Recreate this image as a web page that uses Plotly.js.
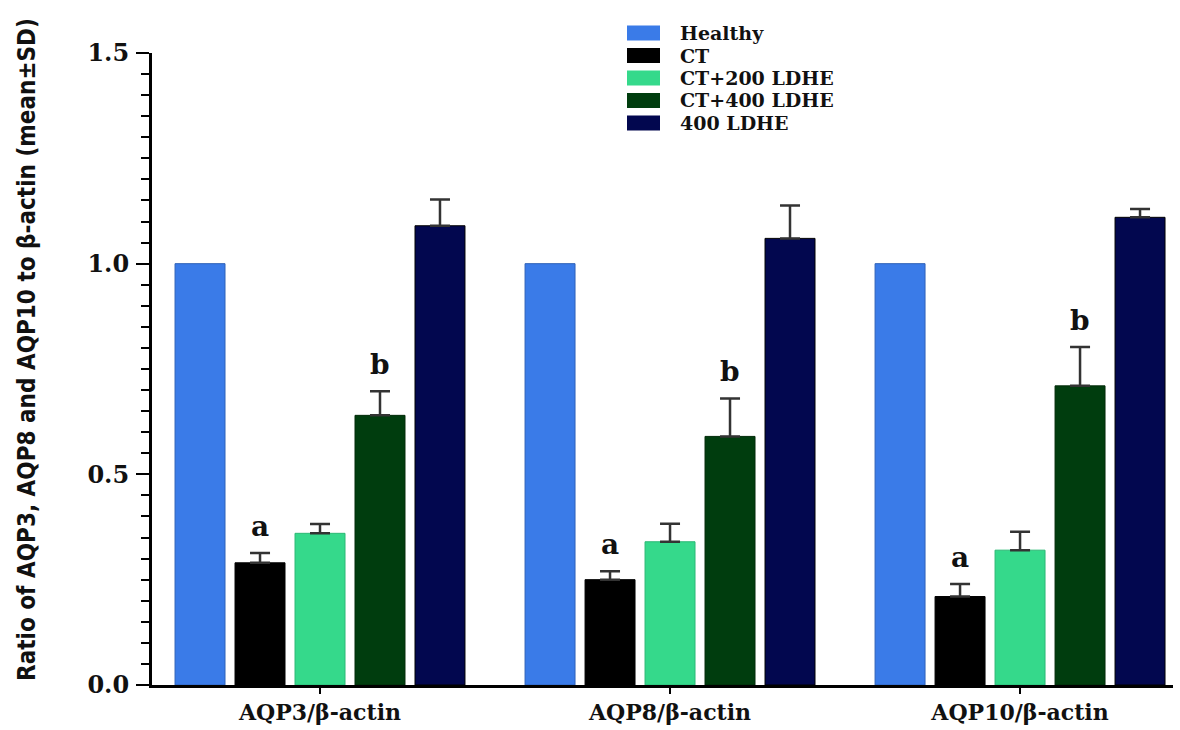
<!DOCTYPE html>
<html>
<head>
<meta charset="utf-8">
<script src="https://cdn.plot.ly/plotly-3.0.1.min.js"></script>
<style>html,body{margin:0;padding:0;background:#fff;}#chart{width:1180px;height:730px;}</style>
</head>
<body>
<div id="chart"></div>
<script>
// ---- data ----
const categories = ["AQP3/β-actin", "AQP8/β-actin", "AQP10/β-actin"];
const seriesNames = ["Healthy", "CT", "CT+200 LDHE", "CT+400 LDHE", "400 LDHE"];
const healthy     = [1.00, 1.00, 1.00];
const ct          = [0.29, 0.25, 0.21];
const ct200       = [0.36, 0.34, 0.32];
const ct400       = [0.64, 0.59, 0.71];
const ldhe400     = [1.09, 1.06, 1.11];
const healthySD   = [0, 0, 0];
const ctSD        = [0.023, 0.020, 0.030];
const ct200SD     = [0.022, 0.043, 0.044];
const ct400SD     = [0.057, 0.090, 0.092];
const ldhe400SD   = [0.062, 0.078, 0.020];
const sigLetters  = [{series: 1, letter: "a"}, {series: 3, letter: "b"}];
const yTitle = "Ratio of AQP3, AQP8 and AQP10 to β-actin (mean±SD)";

// ---- styling ----
const colors = ["#3a7be8", "#000000", "#35d98b", "#003d0e", "#02074f"];
const lineColors = ["#2f62b8", "#000000", "#2bb874", "#002a08", "#000000"];
const values = [healthy, ct, ct200, ct400, ldhe400];
const sds = [healthySD, ctSD, ct200SD, ct400SD, ldhe400SD];
const serif = "DejaVu Serif, Liberation Serif, serif";

const W = 1180, H = 730;
const plotL = 152, plotR = 1173, plotT = 53, plotB = 685;
const bargap = 0.143, bargroupgap = 0.167;

const traces = values.map((v, i) => ({
  type: "bar",
  name: seriesNames[i],
  x: categories,
  y: v,
  marker: {color: colors[i], line: {color: lineColors[i], width: 1}},
  error_y: {
    type: "data", array: sds[i], symmetric: false,
    arrayminus: sds[i].map(() => 0),
    visible: sds[i].some(s => s > 0),
    color: "#333333", thickness: 2.5, width: 10
  },
  showlegend: false,
  hoverinfo: "x+y+name"
}));

// pixel helpers for the hand-drawn legend / annotations
const pxX = px => (px - plotL) / (plotR - plotL);
const pxY = py => (plotB - py) / (plotB - plotT);
const catWidthPx = (plotR - plotL) / (2.437 + 0.48);
const slotPx = catWidthPx * (1 - bargap) / seriesNames.length;

const shapes = [];
const annotations = [];
const legendRows = [33, 55.5, 78, 100.5, 123];
seriesNames.forEach((n, i) => {
  shapes.push({
    type: "rect", xref: "paper", yref: "paper",
    x0: pxX(627), x1: pxX(660),
    y0: pxY(legendRows[i] + 7.5), y1: pxY(legendRows[i] - 7.5),
    fillcolor: colors[i], line: {width: 0}
  });
  annotations.push({
    xref: "paper", yref: "paper", x: pxX(678), y: pxY(legendRows[i]),
    xanchor: "left", yanchor: "middle", showarrow: false,
    text: "<b>" + n + "</b>",
    font: {family: serif, size: 19, color: "#111"}
  });
});

sigLetters.forEach(s => {
  categories.forEach((c, k) => {
    annotations.push({
      xref: "x", yref: "y", x: c, y: values[s.series][k] + sds[s.series][k],
      xshift: (s.series - (seriesNames.length - 1) / 2) * slotPx,
      yanchor: "bottom", yshift: 8, showarrow: false,
      text: "<b>" + s.letter + "</b>",
      font: {family: serif, size: 28, color: "#111"}
    });
  });
});

annotations.push({
  xref: "paper", yref: "paper", x: 0, xshift: 27 - plotL, y: pxY(350),
  xanchor: "center", yanchor: "middle", showarrow: false, textangle: -90,
  text: "<b>" + yTitle + "</b>",
  font: {family: "DejaVu Sans Condensed, DejaVu Sans", stretch: "condensed", weight: "bold", size: 24, color: "#111"}
});

const layout = {
  width: W, height: H,
  margin: {l: plotL, r: W - plotR, t: plotT, b: H - plotB, pad: 0},
  paper_bgcolor: "#fff", plot_bgcolor: "#fff",
  barmode: "group", bargap: bargap, bargroupgap: bargroupgap,
  showlegend: false,
  xaxis: {
    type: "category", range: [-0.48, 2.437],
    showline: true, linewidth: 3, linecolor: "#000",
    ticks: "outside", ticklen: 6, tickwidth: 2, tickcolor: "#000",
    showgrid: false, zeroline: false,
    tickfont: {family: serif, size: 22, weight: "bold", color: "#111"},
    ticklabelstandoff: 0
  },
  yaxis: {
    range: [0, 1.5], dtick: 0.5, tick0: 0, tickformat: ".1f",
    showline: true, linewidth: 3, linecolor: "#000",
    ticks: "outside", ticklen: 13, tickwidth: 2, tickcolor: "#000",
    minor: {dtick: 0.05, tick0: 0, ticks: "outside", ticklen: 8, tickwidth: 2, tickcolor: "#000", showgrid: false},
    showgrid: false, zeroline: false,
    tickfont: {family: serif, size: 24, weight: "bold", color: "#111"},
    ticklabelstandoff: 2
  },
  shapes: shapes,
  annotations: annotations
};

Plotly.newPlot("chart", traces, layout, {displayModeBar: false, staticPlot: true});
</script>
</body>
</html>
